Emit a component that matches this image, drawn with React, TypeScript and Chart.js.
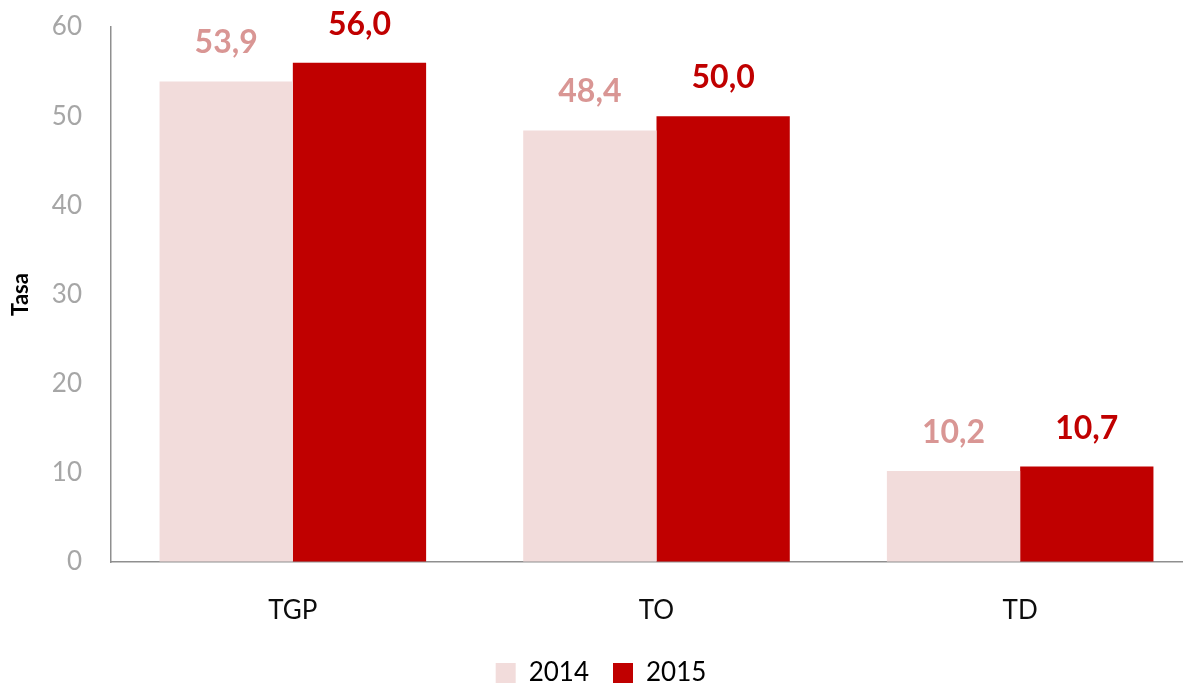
import React, { useEffect, useRef } from "react";
import { Chart, registerables } from "chart.js";

Chart.register(...registerables);

const categories = ["TGP", "TO", "TD"];
const seriesLabels = ["2014", "2015"];
const values2014 = [53.9, 48.4, 10.2];
const values2015 = [56.0, 50.0, 10.7];
const yTicks = [0, 10, 20, 30, 40, 50, 60];

const FONT = "Lato, 'Open Sans', sans-serif";

const dataLabelPlugin = {
  id: "dataLabels",
  afterDatasetsDraw(chart: any) {
    const ctx = chart.ctx;
    ctx.save();
    chart.data.datasets.forEach((ds: any, di: number) => {
      const meta = chart.getDatasetMeta(di);
      meta.data.forEach((bar: any, i: number) => {
        const v = ds.data[i] as number;
        ctx.font = `bold 32px ${FONT}`;
        ctx.fillStyle = ds.labelColor;
        ctx.textAlign = "center";
        ctx.textBaseline = "alphabetic";
        ctx.fillText(v.toFixed(1).replace(".", ","), bar.x, bar.y - 28);
      });
    });
    ctx.restore();
  },
};

export default function App() {
  const ref = useRef<HTMLCanvasElement | null>(null);

  useEffect(() => {
    document.body.style.margin = "0";
    document.body.style.overflow = "hidden";
    if (!ref.current) return;
    const chart = new Chart(ref.current, {
      type: "bar",
      data: {
        labels: categories,
        datasets: [
          {
            label: seriesLabels[0],
            data: values2014,
            backgroundColor: "#f2dcdb",
            labelColor: "#d99694",
            categoryPercentage: 0.733,
            barPercentage: 1.0,
          } as any,
          {
            label: seriesLabels[1],
            data: values2015,
            backgroundColor: "#c00000",
            labelColor: "#c00000",
            categoryPercentage: 0.733,
            barPercentage: 1.0,
          } as any,
        ],
      },
      options: {
        animation: false,
        responsive: false,
        layout: { padding: { top: 27, right: 0, bottom: 0, left: 0 } },
        plugins: {
          legend: {
            position: "bottom",
            labels: {
              boxWidth: 20,
              boxHeight: 20,
              padding: 24,
              color: "#000000",
              font: { family: FONT, size: 26 },
            },
          },
          tooltip: { enabled: false },
        },
        scales: {
          x: {
            offset: true,
            grid: { display: false, drawTicks: false },
            border: { display: true, color: "#8f8f8f", width: 1.5 },
            ticks: {
              color: "#0d0d0d",
              padding: 33,
              font: { family: FONT, size: 26 },
            },
            afterFit(scale: any) {
              scale.height = 74;
            },
          },
          y: {
            min: 0,
            max: 60,
            afterBuildTicks(scale: any) {
              scale.ticks = yTicks.map((v) => ({ value: v }));
            },
            grid: {
              display: true,
              drawOnChartArea: false,
              drawTicks: true,
              tickLength: 29,
              tickColor: "rgba(0,0,0,0)",
            },
            border: { display: true, color: "#8f8f8f", width: 1.5 },
            ticks: {
              color: "#a6a6a6",
              padding: 0,
              font: { family: FONT, size: 26 },
            },
            title: {
              display: true,
              text: "Tasa",
              color: "#000000",
              padding: { top: 8, bottom: 0 },
              font: { family: FONT, size: 22, weight: "bold" },
            },
            afterFit(scale: any) {
              scale.width = 111;
            },
          },
        },
      } as any,
      plugins: [dataLabelPlugin],
    });
    return () => chart.destroy();
  }, []);

  return (
    <div
      style={{
        position: "fixed",
        left: 0,
        top: 0,
        width: 1183,
        height: 687,
        overflow: "hidden",
        background: "#ffffff",
      }}
    >
      <canvas ref={ref} width={1202} height={696} style={{ width: 1202, height: 696, display: "block" }} />
    </div>
  );
}
